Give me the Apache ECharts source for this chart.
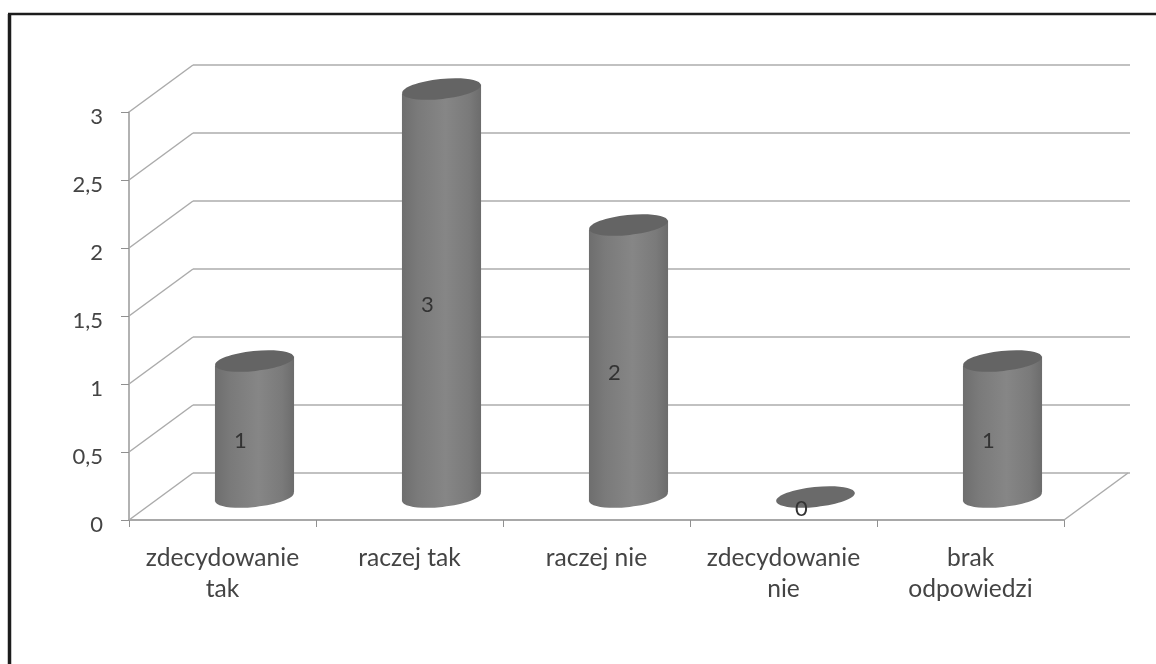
<!DOCTYPE html>
<html><head><meta charset="utf-8">
<style>html,body{margin:0;padding:0;background:#fff;overflow:hidden}#c{width:1156px;height:664px;filter:blur(0.45px)}</style>
<script src="https://cdn.jsdelivr.net/npm/echarts@6/dist/echarts.min.js"></script>
</head><body><div id="c"></div>
<script>
const categories = ['zdecydowanie\ntak', 'raczej tak', 'raczej nie', 'zdecydowanie\nnie', 'brak\nodpowiedzi'];
const values = [1, 3, 2, 0, 1];
const valueTicks = [0, 0.5, 1, 1.5, 2, 2.5, 3];

const DEPTH_X = 64, DEPTH_Y = -47;
const FONT = 'Lato';
const chart = echarts.init(document.getElementById('c'), null, {renderer: 'canvas'});

const bodyFill = {
  type: 'linear', x: 0, y: 0, x2: 1, y2: 0,
  colorStops: [
    {offset: 0, color: '#6e6e6e'}, {offset: 0.2, color: '#7a7a7a'},
    {offset: 0.55, color: '#868686'}, {offset: 0.85, color: '#7a7a7a'},
    {offset: 1, color: '#6c6c6c'}
  ]
};

function renderCylinder(params, api) {
  const v = api.value(1);
  const top = api.coord([api.value(0), v]);
  const base = api.coord([api.value(0), 0]);
  const mid = api.coord([api.value(0), v / 2]);
  const rx = api.size([1, 0])[0] * 0.2115, ry = 10, tilt = 6 * Math.PI / 180;
  const slope = 4.4;
  const children = [];
  const ell = (c, fill) => ({
    type: 'ellipse', x: c[0], y: c[1], rotation: tilt,
    shape: {cx: 0, cy: 0, rx: rx, ry: ry}, style: {fill: fill}
  });
  if (v > 0) {
    children.push(ell(base, bodyFill));
    children.push({
      type: 'polygon',
      shape: {points: [
        [top[0] - rx, top[1] + slope], [top[0] + rx, top[1] - slope],
        [base[0] + rx, base[1] - slope], [base[0] - rx, base[1] + slope]
      ]},
      style: {fill: bodyFill}
    });
    children.push(ell(top, '#646464'));
  } else {
    children.push(ell(top, '#6a6a6a'));
  }
  children.push({
    type: 'text', x: mid[0] - 14, y: mid[1] + 12,
    style: {text: String(v), fill: '#333333', font: '22px ' + FONT, align: 'center', verticalAlign: 'middle'}
  });
  return {type: 'group', children: children};
}

function floorEdge(side) {
  return function (params, api) {
    const s = api.size([1, 0])[0];
    const p = api.coord([api.value(0), api.value(1)]);
    const x = p[0] + side * s / 2;
    return {
      type: 'line',
      shape: {x1: x, y1: p[1], x2: x + DEPTH_X, y2: p[1] + DEPTH_Y},
      style: {stroke: '#ababab', lineWidth: 1.5}
    };
  };
}

const gridLine = {show: true, lineStyle: {color: '#adadad', width: 1.6}};

chart.setOption({
  animation: false,
  backgroundColor: '#ffffff',
  graphic: [
    {type: 'line', z: 100, silent: true, shape: {x1: 9.5, y1: 14, x2: 9.5, y2: 664}, style: {stroke: '#1c1c1c', lineWidth: 3.5}},
    {type: 'line', z: 100, silent: true, shape: {x1: 8, y1: 14, x2: 1156, y2: 14}, style: {stroke: '#1c1c1c', lineWidth: 2.5}}
  ],
  grid: [
    {left: 129, top: 112, width: 935, height: 408},
    {left: 193, top: 65, width: 937, height: 408},
    {left: 161, top: 89, width: 935, height: 408}
  ],
  xAxis: [
    {
      type: 'category', gridIndex: 0, data: categories,
      axisLine: {show: true, lineStyle: {color: '#a8a8a8', width: 2}},
      axisTick: {show: true, length: 7, lineStyle: {color: '#909090', width: 1}},
      axisLabel: {color: '#444444', fontFamily: FONT, fontSize: 24.6, lineHeight: 31, margin: 23, interval: 0},
      splitLine: {show: false}
    },
    {type: 'category', gridIndex: 1, data: categories, axisLine: {show: false}, axisTick: {show: false}, axisLabel: {show: false}},
    {type: 'category', gridIndex: 2, data: categories, axisLine: {show: false}, axisTick: {show: false}, axisLabel: {show: false}}
  ],
  yAxis: [
    {
      type: 'value', gridIndex: 0, min: 0, max: 3, interval: 0.5,
      axisLine: {show: true, lineStyle: {color: '#999999', width: 1.5}},
      axisTick: {show: true, length: 8, lineStyle: {color: '#909090', width: 1}},
      axisLabel: {
        color: '#444444', fontFamily: FONT, fontSize: 22, margin: 26,
        verticalAlign: 'top', lineHeight: 10,
        formatter: v => String(v).replace('.', ',')
      },
      splitLine: {show: false}
    },
    {
      type: 'value', gridIndex: 1, min: 0, max: 3, interval: 0.5,
      axisLine: {show: false}, axisTick: {show: false}, axisLabel: {show: false},
      splitLine: gridLine
    },
    {
      type: 'value', gridIndex: 2, min: 0, max: 3, interval: 0.5,
      axisLine: {show: false}, axisTick: {show: false}, axisLabel: {show: false}, splitLine: {show: false}
    }
  ],
  series: [
    {
      type: 'custom', xAxisIndex: 0, yAxisIndex: 0, silent: true, z: 1, clip: false,
      renderItem: floorEdge(-1),
      data: valueTicks.map(t => [0, t]),
      encode: {x: 0, y: 1}
    },
    {
      type: 'custom', xAxisIndex: 0, yAxisIndex: 0, silent: true, z: 1, clip: false,
      renderItem: floorEdge(1),
      data: [[categories.length - 1, 0]],
      encode: {x: 0, y: 1}
    },
    {
      type: 'custom', xAxisIndex: 2, yAxisIndex: 2, silent: true, z: 5, clip: false,
      renderItem: renderCylinder,
      data: values.map((v, i) => [i, v]),
      encode: {x: 0, y: 1}
    }
  ]
});
</script></body></html>
